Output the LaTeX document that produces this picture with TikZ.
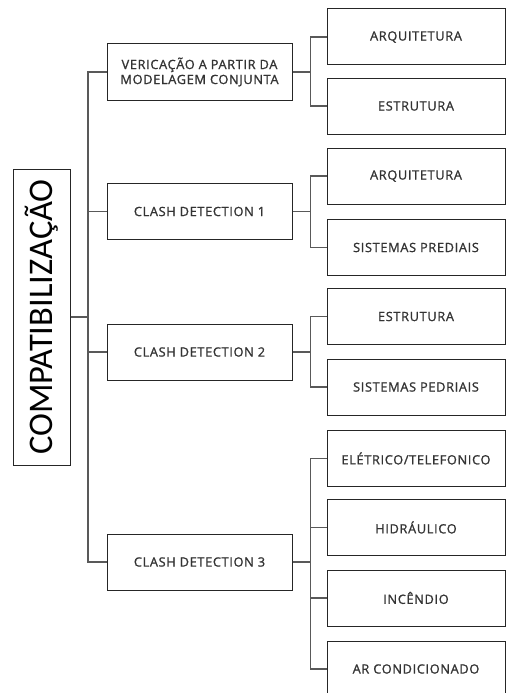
\documentclass[tikz,border=0pt]{standalone}
\usepackage{fontspec}
\setmainfont{Open Sans}
\newfontfamily\boxfont[LetterSpace=5,FakeBold=1.2]{Open Sans}
\newfontfamily\rootfont{Carlito}
\begin{document}
\begin{tikzpicture}[x=1pt,y=-1pt,
  box/.style={draw=black!85,line width=1pt,inner sep=0pt,align=center,text=black!80,font=\boxfont\fontsize{12.8}{15}\selectfont},
  midbox/.style={box,minimum width=185pt,minimum height=56pt},
  leafbox/.style={box,minimum width=178pt,minimum height=56pt},
  link/.style={draw=black!65,line width=1.1pt}]
\useasboundingbox (0,0) rectangle (507,693);
\node[draw=black!85,line width=1pt,minimum height=57pt,minimum width=296pt,inner sep=0pt,rotate=90,font=\rootfont\fontsize{34.5}{36}\selectfont] (root) at (41.5,317) {COMPATIBILIZAÇÃO};
\node[midbox] (m1) at (199.5,72) {VERICAÇÃO A PARTIR DA\\MODELAGEM CONJUNTA};
\node[midbox] (m2) at (199.5,211.5) {CLASH DETECTION 1};
\node[midbox] (m3) at (199.5,352) {CLASH DETECTION 2};
\node[midbox] (m4) at (199.5,562) {CLASH DETECTION 3};
\node[leafbox] (a1) at (416,37) {ARQUITETURA};
\node[leafbox] (a2) at (416,106) {ESTRUTURA};
\node[leafbox] (b1) at (416,176) {ARQUITETURA};
\node[leafbox] (b2) at (416,247.5) {SISTEMAS PREDIAIS};
\node[leafbox] (c1) at (416,316.5) {ESTRUTURA};
\node[leafbox] (c2) at (416,387) {SISTEMAS PEDRIAIS};
\node[leafbox] (d1) at (416,458.5) {ELÉTRICO/TELEFONICO};
\node[leafbox] (d2) at (416,527.5) {HIDRÁULICO};
\node[leafbox] (d3) at (416,598) {INCÊNDIO};
\node[leafbox] (d4) at (416,669) {AR CONDICIONADO};
\coordinate (t0) at (88,317);
\foreach \m in {m1,m2,m3,m4} \draw[link] (root.south) -- (t0) |- (\m.west);
\foreach \m/\l in {m1/a1,m1/a2,m2/b1,m2/b2,m3/c1,m3/c2,m4/d1,m4/d2,m4/d3,m4/d4}
  \draw[link] (\m.east) -- ++(18,0) |- (\l.west);
\end{tikzpicture}
\end{document}
